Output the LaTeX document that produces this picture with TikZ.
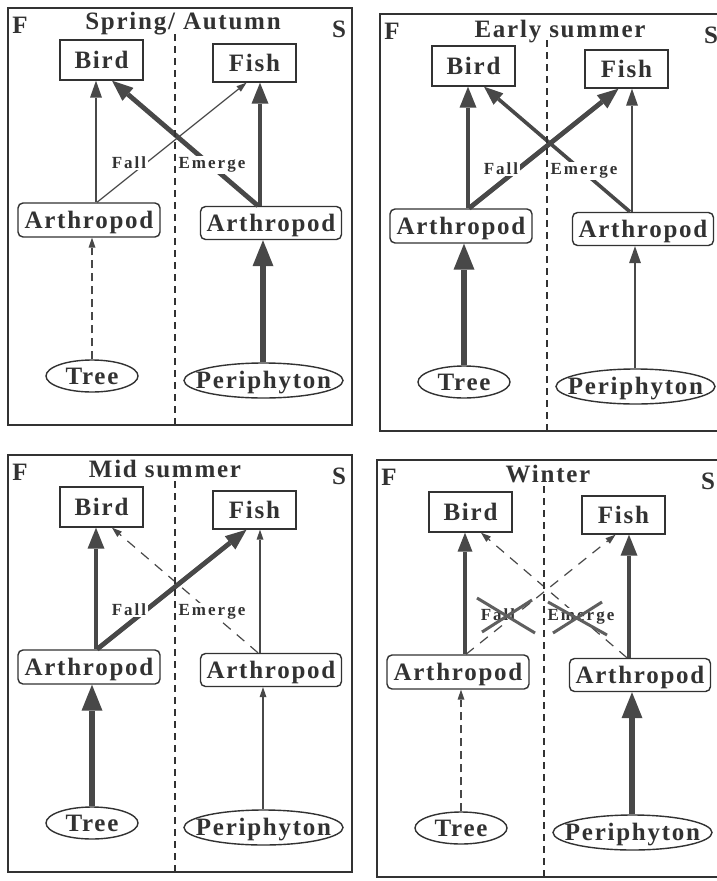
\documentclass[tikz,border=0pt]{standalone}
\usepackage{fontspec}
\setmainfont{Liberation Serif}
\newfontfamily\nodef[LetterSpace=7]{Liberation Serif}
\newfontfamily\labf[LetterSpace=12]{Liberation Serif}
\usetikzlibrary{arrows.meta,shapes.geometric}
\definecolor{ink}{RGB}{50,50,50}
\definecolor{arw}{RGB}{72,72,72}
\definecolor{xcol}{RGB}{95,95,95}
\tikzset{
  nodetxt/.style={font=\nodef\bfseries\fontsize{25}{29}\selectfont, text=ink, text height=16.5pt, text depth=0pt},
  sqbox/.style={nodetxt, draw=ink, line width=1.4pt, inner sep=0pt},
  rbox/.style={sqbox, rounded corners=5pt},
  ell/.style={nodetxt, draw=ink, ellipse, line width=1.4pt, inner sep=0pt},
  ttl/.style={font=\nodef\bfseries\fontsize{25}{30}\selectfont, text=ink, inner sep=0pt, anchor=base},
  corner/.style={font=\bfseries\fontsize{25}{30}\selectfont, text=ink, inner sep=0pt, anchor=base},
  lab/.style={font=\labf\bfseries\fontsize{17}{20}\selectfont, text=ink, fill=white, inner sep=1.5pt},
  frm/.style={draw=ink, line width=1.5pt},
  divl/.style={draw=ink, line width=2.4pt, dash pattern=on 7pt off 5pt},
  thinA/.style={draw=arw, line width=1.2pt, -{Triangle[length=10pt,width=7pt,line width=0pt]}},
  dashA/.style={thinA, dash pattern=on 8pt off 5pt},
  ldashA/.style={thinA, dash pattern=on 10pt off 8pt},
  medA/.style={draw=arw, line width=2.6pt, -{Triangle[length=17pt,width=12pt,line width=0pt]}},
  mthA/.style={draw=arw, line width=3.6pt, -{Triangle[length=19pt,width=15pt,line width=0pt]}},
  thkA/.style={draw=arw, line width=4.8pt, -{Triangle[length=21pt,width=17pt,line width=0pt]}},
  vthA/.style={draw=arw, line width=6pt, -{Triangle[length=26pt,width=21pt,line width=0pt]}},
  xmark/.style={draw=xcol, line width=3pt}
}
\newcommand\drawpanel[1]{%
  \draw[frm] (8,8) rectangle (352,425);
  \node[corner] (#1F) at (20,33) {F};
  \node[corner] (#1S) at (339,37) {S};
  \node[sqbox, minimum width=83pt, minimum height=40pt] (#1bird) at (101.5,60) {Bird};
  \node[sqbox, minimum width=83pt, minimum height=38pt] (#1fish) at (254.5,63) {Fish};
  \node[rbox, minimum width=142pt, minimum height=34pt] (#1arl) at (89,220) {Arthropod};
  \node[rbox, minimum width=141pt, minimum height=33pt] (#1arr) at (271,223) {Arthropod};
  \node[ell, minimum width=92pt, minimum height=32pt] (#1tree) at (92,376) {\makebox[0pt]{Tree}};
  \node[ell, minimum width=159pt, minimum height=35pt] (#1peri) at (263.5,380.5) {\makebox[0pt]{Periphyton}};
  \draw[aFA] ([xshift=8pt]#1arl.north) -- ([xshift=-8pt]#1fish.south);
  \draw[aEM] ([xshift=-13pt]#1arr.north) -- ([xshift=10.5pt]#1bird.south);
  \draw[aLB] ([xshift=7pt]#1arl.north) -- ([xshift=-5.5pt]#1bird.south);
  \draw[aTL] (#1tree.north) -- ([xshift=3pt]#1arl.south);
  \draw[aRF] ([xshift=-11pt]#1arr.north) -- ([xshift=5.5pt]#1fish.south);
  \draw[aPR] ([xshift=-0.5pt]#1peri.north) -- ([xshift=-8pt]#1arr.south);
  \node[lab] (#1fall) at (129,163) {Fall};
  \node[lab] (#1emerge) at (212,165) {Emerge};
  \coordinate (#1dt) at (175,34);
  \coordinate (#1db) at (175,425);
  \draw[divl] (#1dt) -- (#1db);
}
\begin{document}
\begin{tikzpicture}[x=1pt,y=-1pt]
\useasboundingbox (0,0) rectangle (717,881);
\clip (0,0) rectangle (717,881);
\fill[white] (0,0) rectangle (717,881);
% Spring / Autumn
\begin{scope}[aTL/.style={dashA}, aLB/.style={medA}, aFA/.style={thinA},
  aEM/.style={thkA}, aRF/.style={thkA}, aPR/.style={vthA}]
  \drawpanel{p1}
  \node[ttl] (p1title) at (183,29) {Spring/ Autumn};
\end{scope}
% Early summer
\begin{scope}[shift={(372,6)}, aTL/.style={vthA}, aLB/.style={thkA}, aFA/.style={thkA},
  aEM/.style={mthA}, aRF/.style={medA}, aPR/.style={medA}]
  \drawpanel{p2}
  \node[ttl] (p2title) at (188,31) {Early summer};
\end{scope}
% Mid summer
\begin{scope}[shift={(0,447)}, aTL/.style={vthA}, aLB/.style={thkA}, aFA/.style={thkA},
  aEM/.style={ldashA}, aRF/.style={thinA}, aPR/.style={thinA}]
  \drawpanel{p3}
  \node[ttl] (p3title) at (165,30) {Mid summer};
\end{scope}
% Winter
\begin{scope}[shift={(369,452)}, aTL/.style={dashA}, aLB/.style={mthA}, aFA/.style={ldashA},
  aEM/.style={ldashA}, aRF/.style={thkA}, aPR/.style={vthA}]
  \drawpanel{p4}
  \node[ttl] (p4title) at (179,30) {Winter};
  \draw[xmark] (108,146) -- (166,181);
  \draw[xmark] (113,180) -- (163,148);
  \draw[xmark] (179,150) -- (238,183);
  \draw[xmark] (184,181) -- (233,150);
\end{scope}
\end{tikzpicture}
\end{document}
